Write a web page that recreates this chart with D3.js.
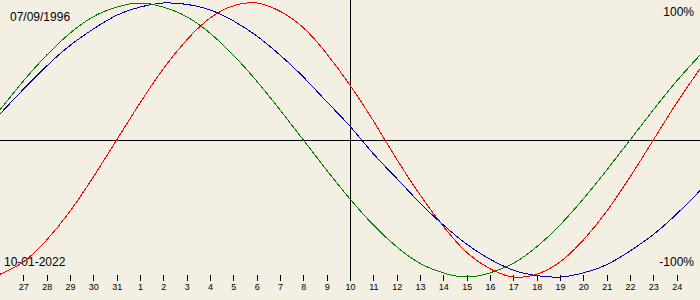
<!DOCTYPE html>
<html>
<head>
<meta charset="utf-8">
<script src="https://cdn.jsdelivr.net/npm/d3@7"></script>
<style>
  html, body { margin: 0; padding: 0; background: #f3efe2; }
  svg { display: block; }
  text { font-family: "Liberation Sans", Arial, sans-serif; fill: #000; }
</style>
</head>
<body>
<svg id="chart" width="700" height="300"></svg>
<script>
var width = 700,
    height = 300;

// day index 0 = Dec 26 ... 30 = Jan 25, values in [-1, 1]
let physical = [-0.98, -0.89, -0.73, -0.52, -0.27, 0.00, 0.27, 0.52, 0.73, 0.89,
                0.98, 1.00, 0.94, 0.82, 0.63, 0.40, 0.14, -0.14, -0.40, -0.63,
                -0.82, -0.94, -1.00, -0.98, -0.89, -0.73, -0.52, -0.27, 0.00, 0.27, 0.52];
let emotional = [0.22, 0.43, 0.62, 0.78, 0.90, 0.97, 1.00, 0.97, 0.90, 0.78,
                 0.62, 0.43, 0.22, 0.00, -0.22, -0.43, -0.62, -0.78, -0.90, -0.97,
                 -1.00, -0.97, -0.90, -0.78, -0.62, -0.43, -0.22, 0.00, 0.22, 0.43, 0.62];
let intellectual = [0.19, 0.37, 0.54, 0.69, 0.81, 0.91, 0.97, 1.00, 0.99, 0.95,
                    0.87, 0.76, 0.62, 0.46, 0.28, 0.10, -0.10, -0.28, -0.46, -0.62,
                    -0.76, -0.87, -0.95, -0.99, -1.00, -0.97, -0.91, -0.81, -0.69, -0.54, -0.37];

// tick labels (Dec 27 .. Jan 24)
let tickLabels = ["27", "28", "29", "30", "31", "1", "2", "3", "4", "5", "6", "7", "8", "9",
                  "10", "11", "12", "13", "14", "15", "16", "17", "18", "19", "20", "21",
                  "22", "23", "24"];
let todayIndex = 15;
let birthText = "07/09/1996",
    dateText = "10-01-2022";

var svg = d3.select("#chart");

var x = d3.scaleLinear().domain([0, 30]).range([0, width]);
var y = d3.scaleLinear().domain([-1, 1]).range([277, 3]);

// axes lines
svg.append("line")
    .attr("x1", 0).attr("x2", width)
    .attr("y1", Math.round(y(0)) + 0.5).attr("y2", Math.round(y(0)) + 0.5)
    .attr("stroke", "#000");

svg.append("line")
    .attr("x1", Math.round(x(todayIndex)) + 0.5).attr("x2", Math.round(x(todayIndex)) + 0.5)
    .attr("y1", 0).attr("y2", 281)
    .attr("stroke", "#000");

// day ticks
var axis = d3.axisBottom(x)
    .tickValues(d3.range(1, tickLabels.length + 1))
    .tickFormat(function(d) { return tickLabels[d - 1]; })
    .tickSize(6)
    .tickPadding(3);

var gAxis = svg.append("g")
    .attr("transform", "translate(0,275)")
    .call(axis);
gAxis.select(".domain").remove();
gAxis.selectAll("line").attr("stroke", "#000").attr("shape-rendering", "crispEdges");
gAxis.selectAll("text")
    .attr("font-family", "Liberation Sans, Arial, sans-serif")
    .attr("font-size", 9)
    .attr("fill", "#000");

// curves
var line = d3.line()
    .x(function(d, i) { return x(i); })
    .y(function(d) { return y(d); })
    .curve(d3.curveNatural);

var series = [
    { values: physical, color: "#ff0000" },
    { values: intellectual, color: "#0000b0" },
    { values: emotional, color: "#008000" }
];

series.forEach(function(s) {
    svg.append("path")
        .attr("d", line(s.values))
        .attr("fill", "none")
        .attr("stroke", s.color)
        .attr("stroke-width", 1)
        .attr("shape-rendering", "crispEdges");
});

// labels
svg.append("text").attr("x", 10).attr("y", 21).attr("font-size", 12).text(birthText);
svg.append("text").attr("x", 4).attr("y", 266).attr("font-size", 12).text(dateText);
svg.append("text").attr("x", 694).attr("y", 16).attr("font-size", 12)
    .attr("text-anchor", "end").text("100%");
svg.append("text").attr("x", 694).attr("y", 266).attr("font-size", 12)
    .attr("text-anchor", "end").text("-100%");
</script>
</body>
</html>
